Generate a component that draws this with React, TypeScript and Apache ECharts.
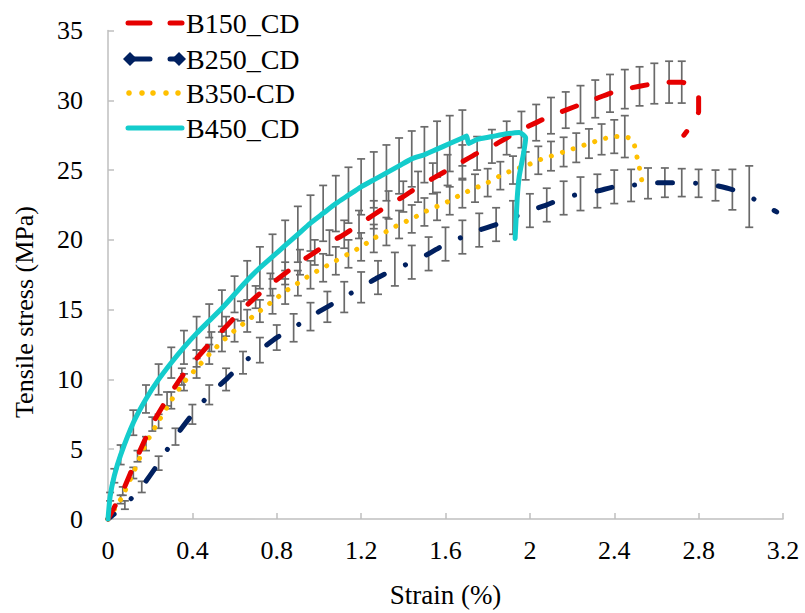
import React, { useEffect, useRef } from "react";
import * as echarts from "echarts";

// ---------- data ----------
const SERIES_NAMES = ["B150_CD", "B250_CD", "B350-CD", "B450_CD"];

const B150_X = [0, 0.07, 0.14, 0.21, 0.28, 0.35, 0.42, 0.49, 0.56, 0.63, 0.7, 0.77, 0.84, 0.91, 0.98, 1.05, 1.12, 1.19, 1.26, 1.33, 1.4, 1.47, 1.54, 1.61, 1.68, 1.75, 1.82, 1.89, 1.96, 2.03, 2.1, 2.17, 2.24, 2.31, 2.38, 2.45, 2.52, 2.59, 2.66, 2.72, 2.77, 2.8, 2.8, 2.77, 2.73];
const B150_Y = [0, 2.0, 4.5, 6.8, 8.6, 10.2, 11.5, 12.7, 13.8, 14.9, 15.9, 16.8, 17.6, 18.4, 19.1, 19.8, 20.4, 21.1, 21.8, 22.5, 23.1, 23.8, 24.4, 25.0, 25.6, 26.2, 26.7, 27.3, 27.9, 28.4, 28.9, 29.3, 29.7, 30.1, 30.5, 30.8, 31.0, 31.2, 31.3, 31.3, 30.9, 30.2, 29.2, 28.3, 27.5];
const B150_ERR = [0, 0.3, 0.4, 0.5, 0.5, 0.6, 0.6, 0.7, 0.7, 0.7, 0.8, 0.8, 0.8, 0.9, 0.9, 0.9, 1.0, 1.0, 1.0, 1.0, 1.1, 1.1, 1.1, 1.1, 1.2, 1.2, 1.2, 1.2, 1.3, 1.3, 1.3, 1.3, 1.35, 1.35, 1.35, 1.4, 1.4, 1.45, 1.5, 1.5, 0, 0, 0, 0, 0];

const B250_X = [0, 0.08, 0.16, 0.24, 0.32, 0.4, 0.48, 0.56, 0.64, 0.72, 0.8, 0.88, 0.96, 1.04, 1.12, 1.2, 1.28, 1.36, 1.44, 1.52, 1.6, 1.68, 1.76, 1.84, 1.92, 2.0, 2.08, 2.16, 2.24, 2.32, 2.4, 2.48, 2.56, 2.64, 2.72, 2.8, 2.88, 2.96, 3.04, 3.1, 3.17];
const B250_Y = [0, 1.0, 2.3, 4.0, 5.9, 7.5, 8.9, 10.0, 11.2, 12.1, 13.0, 13.7, 14.5, 15.2, 15.9, 16.6, 17.3, 17.9, 18.4, 19.0, 19.7, 20.2, 20.7, 21.1, 21.6, 22.1, 22.5, 23.0, 23.3, 23.5, 23.8, 23.9, 24.05, 24.1, 24.1, 24.05, 23.9, 23.6, 23.1, 22.6, 22.0];
const B250_ERR = [0, 0.3, 0.4, 0.5, 0.6, 0.7, 0.7, 0.8, 0.8, 0.9, 0.9, 1.0, 1.0, 1.1, 1.1, 1.1, 1.2, 1.2, 1.2, 1.2, 1.2, 1.2, 1.2, 1.2, 1.2, 1.2, 1.2, 1.2, 1.2, 1.2, 1.2, 1.15, 1.1, 1.05, 1.0, 1.0, 1.1, 1.45, 2.2, 0, 0];

const B350_X = [0, 0.06, 0.12, 0.18, 0.24, 0.3, 0.36, 0.42, 0.48, 0.54, 0.6, 0.66, 0.72, 0.78, 0.84, 0.9, 0.96, 1.02, 1.08, 1.14, 1.2, 1.26, 1.32, 1.38, 1.44, 1.5, 1.56, 1.62, 1.68, 1.74, 1.8, 1.86, 1.92, 1.98, 2.04, 2.1, 2.16, 2.22, 2.28, 2.34, 2.4, 2.45, 2.49, 2.5, 2.51, 2.52, 2.53];
const B350_Y = [0, 1.4, 3.3, 5.4, 7.0, 8.5, 9.8, 10.8, 11.8, 12.7, 13.5, 14.2, 14.9, 15.6, 16.3, 16.9, 17.5, 18.0, 18.5, 19.0, 19.5, 20.1, 20.6, 21.1, 21.5, 22.0, 22.4, 22.8, 23.3, 23.7, 24.1, 24.6, 25.0, 25.3, 25.7, 26.0, 26.3, 26.6, 26.9, 27.2, 27.4, 27.4, 27.1, 26.4, 25.8, 25.1, 24.3];
const B350_ERR = [0, 0.3, 0.4, 0.5, 0.5, 0.6, 0.6, 0.7, 0.7, 0.7, 0.8, 0.8, 0.8, 0.9, 0.9, 0.9, 1.0, 1.0, 1.0, 1.0, 1.0, 1.0, 1.0, 1.0, 1.0, 1.0, 1.0, 1.0, 1.0, 1.0, 1.0, 1.0, 1.0, 1.0, 1.0, 1.05, 1.05, 1.05, 1.05, 1.1, 1.2, 1.5, 0, 0, 0, 0, 0];

const B450_X = [0, 0.01, 0.03, 0.06, 0.12, 0.18, 0.24, 0.3, 0.36, 0.42, 0.48, 0.54, 0.6, 0.66, 0.72, 0.78, 0.84, 0.9, 0.96, 1.02, 1.08, 1.14, 1.2, 1.26, 1.32, 1.38, 1.44, 1.5, 1.56, 1.62, 1.68, 1.7, 1.71, 1.75, 1.82, 1.89, 1.95, 1.98, 1.97, 1.95, 1.94, 1.93];
const B450_Y = [0, 1.6, 3.1, 4.6, 6.9, 8.6, 10.0, 11.2, 12.3, 13.3, 14.2, 15.1, 16.1, 17.1, 18.0, 18.8, 19.6, 20.4, 21.2, 21.9, 22.6, 23.2, 23.8, 24.3, 24.8, 25.3, 25.8, 26.1, 26.5, 26.9, 27.3, 27.45, 26.9, 27.2, 27.4, 27.6, 27.7, 27.3, 26.2, 24.6, 23.0, 20.1];
const B450_ERR = [0, 0.3, 0.5, 0.7, 0.9, 1.0, 1.1, 1.1, 1.2, 1.2, 1.2, 1.3, 1.3, 1.4, 1.5, 1.6, 1.8, 2.0, 2.0, 2.0, 2.0, 2.0, 2.0, 2.0, 2.0, 2.0, 2.0, 2.0, 2.0, 2.0, 2.0, 0, 0, 0, 0, 0, 0, 0, 0, 0, 0, 0];

const X_MIN = 0, X_MAX = 3.2, X_STEP = 0.4;
const Y_MIN = 0, Y_MAX = 35, Y_STEP = 5;
const X_TITLE = "Strain (%)";
const Y_TITLE = "Tensile stress (MPa)";

// ---------- styles ----------
const FONT = "Liberation Serif";
const RED = "#e60000";
const NAVY = "#002060";
const YELLOW = "#ffc000";
const CYAN = "#14cccc";
const AXIS_GRAY = "#bfbfbf";
const ERR_GRAY = "#6a6a6a";

const zip = (xs: number[], ys: number[]) => xs.map((x, i) => [x, ys[i]]);
const errData = (xs: number[], ys: number[], es: number[]) =>
  xs.map((x, i) => [x, ys[i], es[i]]).filter((d) => d[2] > 0);

const renderErr = (params: any, api: any) => {
  const x = api.value(0);
  const y = api.value(1);
  const e = api.value(2);
  const top = api.coord([x, y + e]);
  const bot = api.coord([x, y - e]);
  const hw = 4;
  const st = { stroke: ERR_GRAY, lineWidth: 1.7, fill: "none" };
  return {
    type: "group",
    children: [
      { type: "line", shape: { x1: top[0], y1: top[1], x2: bot[0], y2: bot[1] }, style: st },
      { type: "line", shape: { x1: top[0] - hw, y1: top[1], x2: top[0] + hw, y2: top[1] }, style: st },
      { type: "line", shape: { x1: bot[0] - hw, y1: bot[1], x2: bot[0] + hw, y2: bot[1] }, style: st },
    ],
  };
};

export default function App() {
  const ref = useRef<HTMLDivElement>(null);
  useEffect(() => {
    document.body.style.margin = "0";
    if (!ref.current) return;
    const chart = echarts.init(ref.current, null, { renderer: "svg" });

    const lineSeries = (name: string, xs: number[], ys: number[], color: string, dash: any, z: number, dashOffset = 0) => ({
      name,
      type: "line",
      data: zip(xs, ys),
      smooth: 0.2,
      showSymbol: false,
      symbol: "none",
      clip: false,
      z,
      lineStyle: { color, width: 5, type: dash, dashOffset, cap: "round", join: "round" },
      itemStyle: { color },
    });
    const errSeries = (xs: number[], ys: number[], es: number[]) => ({
      type: "custom",
      renderItem: renderErr,
      data: errData(xs, ys, es),
      z: 1,
      silent: true,
    });

    // custom legend drawn with graphic elements
    const LX = 128, LT = 186;
    const rows = [23, 59, 93, 128];
    const graphic: any[] = [];
    // B150
    graphic.push({ type: "line", shape: { x1: LX, y1: rows[0], x2: LX + 22, y2: rows[0] }, style: { stroke: RED, lineWidth: 5, lineCap: "round" } });
    graphic.push({ type: "line", shape: { x1: LX + 42, y1: rows[0], x2: LX + 54, y2: rows[0] }, style: { stroke: RED, lineWidth: 5, lineCap: "round" } });
    // B250
    graphic.push({ type: "line", shape: { x1: LX + 2, y1: rows[1], x2: LX + 22, y2: rows[1] }, style: { stroke: NAVY, lineWidth: 5, lineCap: "round" } });
    graphic.push({ type: "line", shape: { x1: LX + 42, y1: rows[1], x2: LX + 50, y2: rows[1] }, style: { stroke: NAVY, lineWidth: 5, lineCap: "round" } });
    [LX + 2, LX + 51].forEach((cx) =>
      graphic.push({ type: "polygon", shape: { points: [[cx - 7, rows[1]], [cx, rows[1] - 7], [cx + 7, rows[1]], [cx, rows[1] + 7]] }, style: { fill: NAVY } })
    );
    // B350
    [1, 14, 25, 38, 50].forEach((dx) =>
      graphic.push({ type: "circle", shape: { cx: LX + dx, cy: rows[2], r: 2.8 }, style: { fill: YELLOW } })
    );
    // B450
    graphic.push({ type: "line", shape: { x1: LX, y1: rows[3], x2: LX + 54, y2: rows[3] }, style: { stroke: CYAN, lineWidth: 5, lineCap: "round" } });
    SERIES_NAMES.forEach((n, i) =>
      graphic.push({
        type: "text",
        x: LT,
        y: rows[i],
        style: { text: n, fontFamily: FONT, fontSize: 28, fill: "#000", verticalAlign: "middle", align: "left" },
      })
    );
    // y-axis title (placed like the reference, slightly below the plot centre)
    graphic.push({
      type: "text",
      x: 24,
      y: 312,
      rotation: Math.PI / 2,
      style: { text: Y_TITLE, fontFamily: FONT, fontSize: 26, fill: "#000", align: "center", verticalAlign: "middle" },
    });

    chart.setOption({
      animation: false,
      backgroundColor: "#ffffff",
      grid: { left: 108, right: 22, top: 30.5, bottom: 91, containLabel: false },
      xAxis: {
        type: "value",
        min: X_MIN,
        max: X_MAX,
        interval: X_STEP,
        name: X_TITLE,
        nameLocation: "middle",
        nameGap: 62,
        nameTextStyle: { fontFamily: FONT, fontSize: 27, color: "#000" },
        axisLine: { show: true, lineStyle: { color: AXIS_GRAY, width: 1.5 } },
        axisTick: { show: true, inside: true, length: 6, lineStyle: { color: AXIS_GRAY, width: 1.5 } },
        splitLine: { show: false },
        axisLabel: { fontFamily: FONT, fontSize: 26, color: "#000", margin: 18 },
      },
      yAxis: {
        type: "value",
        min: Y_MIN,
        max: Y_MAX,
        interval: Y_STEP,
        axisLine: { show: true, lineStyle: { color: AXIS_GRAY, width: 1.5 } },
        axisTick: { show: true, inside: true, length: 6, lineStyle: { color: AXIS_GRAY, width: 1.5 } },
        splitLine: { show: false },
        axisLabel: { fontFamily: FONT, fontSize: 26, color: "#000", margin: 25 },
      },
      graphic,
      series: [
        errSeries(B150_X, B150_Y, B150_ERR),
        errSeries(B250_X, B250_Y, B250_ERR),
        errSeries(B350_X, B350_Y, B350_ERR),
        errSeries(B450_X, B450_Y, B450_ERR),
        lineSeries(SERIES_NAMES[1], B250_X, B250_Y, NAVY, [15, 23, 0.1, 23], 3, 7),
        lineSeries(SERIES_NAMES[2], B350_X, B350_Y, YELLOW, [0.1, 11.3], 4),
        lineSeries(SERIES_NAMES[0], B150_X, B150_Y, RED, [15, 22], 5),
        lineSeries(SERIES_NAMES[3], B450_X, B450_Y, CYAN, "solid", 6),
      ],
    });
    return () => chart.dispose();
  }, []);
  return <div ref={ref} style={{ width: 805, height: 613 }} />;
}
